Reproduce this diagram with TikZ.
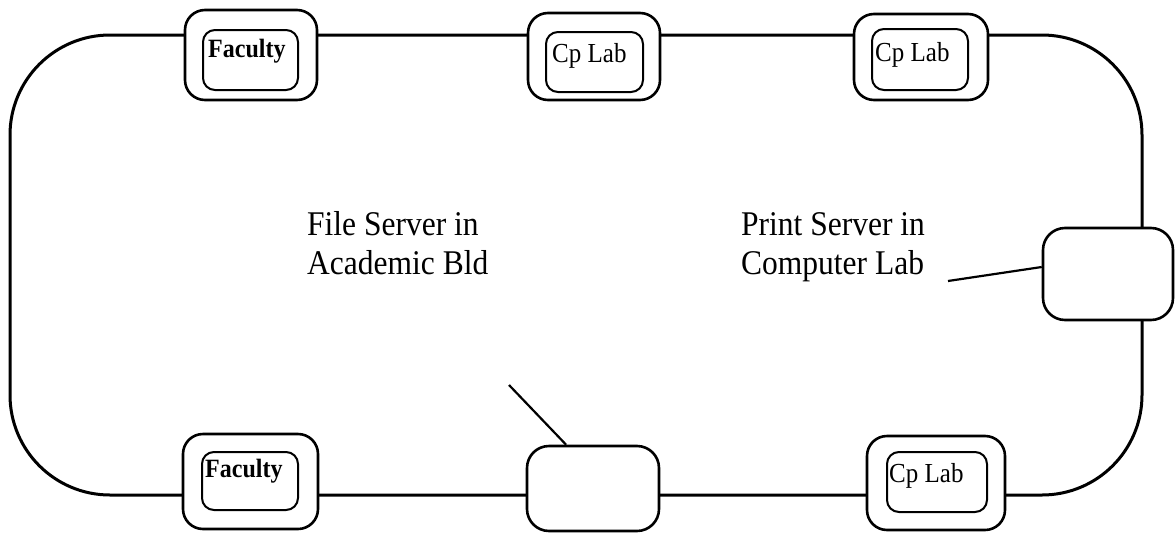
\documentclass[tikz,border=0pt]{standalone}
\usepackage{fontspec}
\setmainfont{Liberation Serif}
\usetikzlibrary{calc}
\newcommand{\tallish}[1]{\scalebox{1}[1.1]{#1}}
\tikzset{
  ring/.style={line width=3pt},
  outerbox/.style={draw, line width=2.6pt, rounded corners=20pt, fill=white, inner sep=0pt},
  innerbox/.style={draw, line width=2pt, rounded corners=12pt, fill=white, inner sep=0pt},
  serverbox/.style={draw, line width=2.6pt, rounded corners=22pt, fill=white, inner sep=0pt},
  boxlabel/.style={inner sep=0pt, anchor=base west, font=\fontsize{25}{28}\selectfont},
  boldlabel/.style={boxlabel, font=\fontsize{24}{28}\selectfont\bfseries},
  notelabel/.style={inner sep=0pt, anchor=base west, font=\fontsize{31.5}{35.5}\selectfont},
  leader/.style={line width=2.2pt}
}
\begin{document}
\begin{tikzpicture}[x=1pt,y=-1pt]
\useasboundingbox (0,0) rectangle (1175,533);
% network ring
\draw[ring, rounded corners=100pt] (10,35) rectangle (1142,495);
% top row
\node[outerbox, minimum width=132pt, minimum height=90pt] (f1o) at (251,55) {};
\node[innerbox, minimum width=95pt, minimum height=60pt] (f1i) at (250.5,60) {};
\node[boldlabel] (f1t) at (208,57) {\tallish{Faculty}};
\node[outerbox, minimum width=132pt, minimum height=87pt] (c1o) at (594,56.5) {};
\node[innerbox, minimum width=97pt, minimum height=60pt] (c1i) at (594.5,62) {};
\node[boxlabel] (c1t) at (552,62) {\tallish{Cp Lab}};
\node[outerbox, minimum width=134pt, minimum height=86pt] (c2o) at (921,57) {};
\node[innerbox, minimum width=96pt, minimum height=61pt] (c2i) at (920,59.5) {};
\node[boxlabel] (c2t) at (875,61) {\tallish{Cp Lab}};
% bottom row
\node[outerbox, minimum width=135pt, minimum height=95pt] (f2o) at (250.5,481.5) {};
\node[innerbox, minimum width=96pt, minimum height=58pt] (f2i) at (250,481) {};
\node[boldlabel] (f2t) at (205,477) {\tallish{Faculty}};
\node[serverbox, minimum width=132pt, minimum height=85pt] (fs) at (593,488.5) {};
\node[outerbox, minimum width=138pt, minimum height=94pt] (c3o) at (936,483) {};
\node[innerbox, minimum width=100pt, minimum height=60pt] (c3i) at (937,482) {};
\node[boxlabel] (c3t) at (889,482) {\tallish{Cp Lab}};
% print server
\node[serverbox, minimum width=130pt, minimum height=92pt] (ps) at (1108,274) {};
% notes
\node[notelabel] (fsn) at (307,235.5) {\tallish{\begin{tabular}[t]{@{}l@{}}File Server in\\Academic Bld\end{tabular}}};
\node[notelabel] (psn) at (741,235.5) {\tallish{\begin{tabular}[t]{@{}l@{}}Print Server in\\Computer Lab\end{tabular}}};
\coordinate (fsa) at (509,385);
\coordinate (psa) at (948,281);
\draw[leader] (fsa) -- ($(fs.north west)!0.3!(fs.north east)$);
\draw[leader] (psa) -- ($(ps.west)+(0,-7)$);
\end{tikzpicture}
\end{document}
